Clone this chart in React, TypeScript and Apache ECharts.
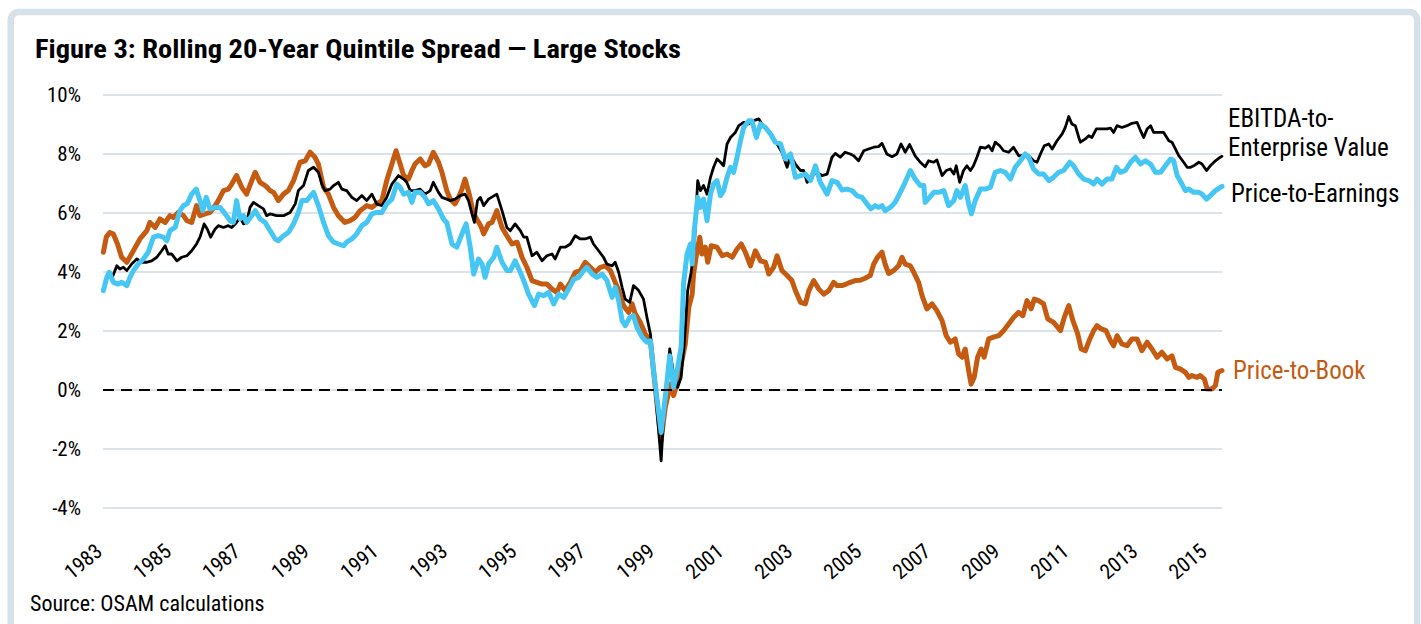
import React, { useEffect, useRef } from "react";
import * as echarts from "echarts";

// ---------- data (year, % spread) ----------
const pbData: [number, number][] = [
  [1983.01, 4.67], [1983.1, 5.2], [1983.2, 5.34], [1983.3, 5.29], [1983.42, 4.95], [1983.54, 4.5], [1983.69, 4.33], [1983.88, 4.72],
  [1984.07, 5.12], [1984.27, 5.4], [1984.36, 5.68], [1984.51, 5.51], [1984.65, 5.8], [1984.8, 5.68], [1984.94, 5.91], [1985.04, 5.85],
  [1985.18, 6.02], [1985.33, 5.91], [1985.43, 5.74], [1985.57, 5.68], [1985.71, 6.25], [1985.81, 5.91], [1985.96, 5.97], [1986.1, 6.02],
  [1986.25, 6.25], [1986.34, 6.42], [1986.49, 6.76], [1986.63, 6.81], [1986.73, 6.98], [1986.87, 7.27], [1987.02, 6.87], [1987.16, 6.64],
  [1987.31, 7.1], [1987.41, 7.38], [1987.55, 7.04], [1987.7, 6.93], [1987.84, 6.76], [1987.94, 6.7], [1988.08, 6.42], [1988.23, 6.64],
  [1988.37, 6.76], [1988.52, 7.1], [1988.71, 7.72], [1988.86, 7.77], [1989.0, 8.06], [1989.14, 7.89], [1989.24, 7.66], [1989.39, 6.87],
  [1989.53, 6.64], [1989.68, 6.19], [1989.82, 5.91], [1990.01, 5.68], [1990.16, 5.74], [1990.3, 5.85], [1990.45, 6.08], [1990.64, 6.25],
  [1990.79, 6.19], [1990.93, 6.31], [1991.08, 6.42], [1991.22, 7.1], [1991.37, 7.66], [1991.49, 8.11], [1991.61, 7.66], [1991.71, 7.27],
  [1991.85, 7.15], [1991.95, 7.44], [1992.04, 7.66], [1992.19, 7.83], [1992.33, 7.6], [1992.43, 7.66], [1992.57, 8.06], [1992.72, 7.72],
  [1992.82, 7.38], [1992.96, 6.76], [1993.06, 6.47], [1993.2, 6.31], [1993.3, 6.53], [1993.4, 6.81], [1993.49, 7.15], [1993.62, 6.6],
  [1993.73, 6.0], [1993.85, 5.75], [1993.95, 5.55], [1994.03, 5.29], [1994.17, 5.63], [1994.27, 5.68], [1994.41, 6.08], [1994.56, 5.51],
  [1994.7, 5.23], [1994.85, 4.95], [1995.0, 5.01], [1995.14, 4.5], [1995.28, 4.16], [1995.43, 3.71], [1995.57, 3.65], [1995.72, 3.59],
  [1995.86, 3.59], [1996.01, 3.42], [1996.15, 3.31], [1996.25, 3.59], [1996.39, 3.37], [1996.54, 3.65], [1996.68, 3.99], [1996.83, 4.05],
  [1996.97, 4.33], [1997.12, 4.16], [1997.26, 3.99], [1997.41, 4.16], [1997.55, 4.21], [1997.7, 4.05], [1997.84, 3.65], [1997.94, 3.37],
  [1998.08, 2.86], [1998.23, 2.63], [1998.33, 2.92], [1998.42, 2.58], [1998.57, 2.29], [1998.71, 1.9], [1998.86, 1.67], [1998.95, 0.66],
  [1999.07, -0.7], [1999.17, -1.72], [1999.29, -0.59], [1999.44, 0.2], [1999.53, -0.19], [1999.63, 0.2], [1999.75, 0.88], [1999.87, 1.56],
  [1999.97, 2.8], [2000.07, 3.25], [2000.11, 3.93], [2000.21, 4.72], [2000.29, 5.18], [2000.35, 4.61], [2000.45, 4.84], [2000.52, 4.33],
  [2000.62, 4.89], [2000.79, 4.84], [2000.94, 4.55], [2001.08, 4.61], [2001.23, 4.5], [2001.37, 4.78], [2001.49, 4.95], [2001.61, 4.67],
  [2001.76, 4.21], [2001.9, 4.72], [2002.05, 4.38], [2002.19, 4.33], [2002.29, 3.93], [2002.43, 4.16], [2002.53, 4.55], [2002.67, 4.05],
  [2002.82, 3.88], [2002.96, 3.71], [2003.06, 3.37], [2003.21, 2.97], [2003.35, 2.92], [2003.45, 3.37], [2003.59, 3.71], [2003.74, 3.42],
  [2003.88, 3.25], [2004.03, 3.37], [2004.17, 3.65], [2004.27, 3.54], [2004.41, 3.54], [2004.55, 3.6], [2004.65, 3.65], [2004.79, 3.71],
  [2004.94, 3.72], [2005.08, 3.79], [2005.23, 3.88], [2005.33, 4.27], [2005.44, 4.5], [2005.57, 4.67], [2005.66, 4.27], [2005.76, 3.95],
  [2005.91, 4.05], [2006.05, 4.21], [2006.15, 4.5], [2006.24, 4.27], [2006.39, 4.21], [2006.49, 3.99], [2006.63, 3.65], [2006.73, 3.2],
  [2006.87, 2.75], [2007.02, 2.92], [2007.16, 2.69], [2007.31, 2.35], [2007.43, 1.84], [2007.55, 1.62], [2007.69, 1.73], [2007.79, 1.22],
  [2007.89, 1.11], [2007.98, 1.39], [2008.08, 0.66], [2008.15, 0.2], [2008.24, 0.43], [2008.34, 1.11], [2008.44, 1.39], [2008.53, 1.11],
  [2008.66, 1.73], [2008.8, 1.79], [2008.95, 1.84], [2009.09, 2.01], [2009.24, 2.24], [2009.38, 2.46], [2009.53, 2.63], [2009.65, 2.52],
  [2009.77, 3.03], [2009.89, 2.75], [2009.98, 3.08], [2010.11, 3.03], [2010.25, 2.92], [2010.37, 2.41], [2010.54, 2.29], [2010.74, 2.01],
  [2010.85, 2.46], [2010.98, 2.86], [2011.1, 2.35], [2011.24, 1.9], [2011.34, 1.39], [2011.46, 1.33], [2011.59, 1.73], [2011.7, 2.01],
  [2011.8, 2.18], [2011.92, 2.07], [2012.06, 2.01], [2012.19, 1.67], [2012.28, 1.5], [2012.38, 1.84], [2012.52, 1.56], [2012.67, 1.5],
  [2012.81, 1.73], [2012.96, 1.73], [2013.1, 1.33], [2013.25, 1.62], [2013.39, 1.39], [2013.54, 1.11], [2013.68, 1.28], [2013.83, 1.05],
  [2013.97, 1.16], [2014.07, 0.77], [2014.22, 0.71], [2014.36, 0.6], [2014.46, 0.43], [2014.55, 0.49], [2014.7, 0.43], [2014.79, 0.49],
  [2014.91, 0.37], [2014.99, 0.03], [2015.13, 0.03], [2015.23, 0.15], [2015.3, 0.6], [2015.42, 0.66],
];

const peData: [number, number][] = [
  [1983.01, 3.37], [1983.11, 3.82], [1983.18, 3.99], [1983.3, 3.65], [1983.44, 3.59], [1983.54, 3.65], [1983.69, 3.54], [1983.78, 3.82],
  [1983.88, 4.05], [1984.02, 4.27], [1984.17, 4.44], [1984.31, 4.67], [1984.46, 5.18], [1984.6, 5.23], [1984.75, 5.18], [1984.85, 5.06],
  [1984.94, 5.4], [1985.09, 5.51], [1985.23, 6.08], [1985.33, 6.25], [1985.44, 6.31], [1985.57, 6.64], [1985.7, 6.81], [1985.81, 6.42],
  [1985.89, 6.08], [1985.99, 6.53], [1986.1, 6.14], [1986.25, 6.19], [1986.39, 6.19], [1986.54, 5.97], [1986.68, 5.74], [1986.78, 5.68],
  [1986.87, 6.42], [1986.97, 5.8], [1987.07, 5.91], [1987.16, 5.68], [1987.31, 5.91], [1987.41, 6.08], [1987.55, 5.8], [1987.7, 5.68],
  [1987.84, 5.4], [1987.99, 5.12], [1988.08, 5.06], [1988.23, 5.23], [1988.37, 5.34], [1988.52, 5.63], [1988.66, 6.02], [1988.76, 6.42],
  [1988.9, 6.42], [1989.1, 6.7], [1989.24, 6.25], [1989.39, 5.68], [1989.53, 5.23], [1989.68, 5.01], [1989.82, 4.95], [1989.97, 4.89],
  [1990.06, 5.01], [1990.21, 5.12], [1990.35, 5.29], [1990.5, 5.57], [1990.64, 5.68], [1990.79, 5.97], [1990.93, 6.02], [1991.08, 6.02],
  [1991.22, 6.31], [1991.37, 6.47], [1991.51, 6.98], [1991.61, 6.87], [1991.71, 6.64], [1991.85, 6.7], [1991.95, 6.36], [1992.04, 6.7],
  [1992.19, 6.7], [1992.33, 6.53], [1992.43, 6.31], [1992.57, 6.42], [1992.72, 6.14], [1992.86, 5.8], [1992.96, 5.68], [1993.11, 4.95],
  [1993.25, 4.84], [1993.4, 5.29], [1993.52, 5.63], [1993.64, 4.84], [1993.74, 3.93], [1993.88, 4.44], [1993.98, 4.27], [1994.07, 3.82],
  [1994.17, 4.27], [1994.32, 4.5], [1994.41, 4.84], [1994.56, 4.33], [1994.7, 4.05], [1994.8, 4.05], [1994.94, 4.38], [1995.09, 3.99],
  [1995.19, 3.71], [1995.33, 3.25], [1995.5, 2.86], [1995.62, 3.25], [1995.77, 3.2], [1995.91, 3.31], [1996.06, 2.92], [1996.2, 3.25],
  [1996.35, 3.14], [1996.49, 3.42], [1996.64, 3.76], [1996.78, 3.82], [1996.93, 4.05], [1997.02, 4.16], [1997.17, 3.93], [1997.31, 3.82],
  [1997.46, 3.93], [1997.6, 3.71], [1997.75, 3.14], [1997.84, 3.48], [1997.94, 3.03], [1998.04, 2.35], [1998.13, 2.18], [1998.26, 2.46],
  [1998.37, 2.52], [1998.47, 2.12], [1998.62, 1.79], [1998.76, 1.62], [1998.86, 1.67], [1998.95, 0.66], [1999.07, -0.47], [1999.17, -1.44],
  [1999.29, -0.25], [1999.42, 1.16], [1999.53, 0.09], [1999.65, 0.77], [1999.75, 1.45], [1999.82, 3.59], [1999.92, 4.61], [2000.02, 4.95],
  [2000.07, 4.27], [2000.13, 5.4], [2000.23, 6.53], [2000.31, 6.19], [2000.4, 6.47], [2000.5, 5.74], [2000.6, 6.64], [2000.69, 6.98],
  [2000.79, 7.1], [2000.89, 6.59], [2000.98, 6.76], [2001.08, 7.21], [2001.18, 7.55], [2001.27, 7.38], [2001.37, 7.89], [2001.47, 8.45],
  [2001.56, 8.9], [2001.71, 9.13], [2001.8, 9.13], [2001.93, 8.56], [2002.05, 9.02], [2002.19, 8.9], [2002.34, 8.68], [2002.48, 8.4],
  [2002.63, 8.34], [2002.77, 7.83], [2002.92, 8.0], [2003.06, 7.21], [2003.21, 7.27], [2003.35, 7.32], [2003.5, 7.1], [2003.64, 7.6],
  [2003.78, 7.04], [2003.98, 6.64], [2004.12, 7.1], [2004.27, 7.04], [2004.41, 6.78], [2004.55, 6.81], [2004.7, 6.76], [2004.84, 6.59],
  [2004.99, 6.53], [2005.13, 6.31], [2005.25, 6.14], [2005.37, 6.25], [2005.47, 6.19], [2005.57, 6.25], [2005.66, 6.08], [2005.81, 6.19],
  [2005.95, 6.36], [2006.1, 6.7], [2006.24, 7.04], [2006.39, 7.44], [2006.53, 7.15], [2006.68, 6.93], [2006.78, 6.93], [2006.82, 6.36],
  [2006.95, 6.53], [2007.07, 6.7], [2007.21, 6.7], [2007.36, 6.76], [2007.5, 6.25], [2007.65, 6.42], [2007.74, 6.76], [2007.84, 6.53],
  [2007.98, 6.93], [2008.08, 6.31], [2008.16, 5.97], [2008.27, 6.42], [2008.42, 6.81], [2008.56, 6.81], [2008.71, 6.87], [2008.85, 7.38],
  [2009.0, 7.44], [2009.14, 7.38], [2009.29, 7.15], [2009.43, 7.55], [2009.58, 7.77], [2009.72, 8.0], [2009.82, 7.89], [2009.96, 7.49],
  [2010.11, 7.32], [2010.25, 7.32], [2010.4, 7.1], [2010.54, 7.21], [2010.69, 7.38], [2010.83, 7.44], [2011.01, 7.72], [2011.12, 7.6],
  [2011.27, 7.32], [2011.41, 7.15], [2011.56, 7.1], [2011.7, 6.98], [2011.8, 7.15], [2011.94, 6.98], [2012.09, 7.15], [2012.23, 7.15],
  [2012.36, 7.55], [2012.48, 7.38], [2012.62, 7.44], [2012.77, 7.72], [2012.91, 7.89], [2013.06, 7.66], [2013.2, 7.77], [2013.35, 7.66],
  [2013.49, 7.38], [2013.64, 7.38], [2013.78, 7.6], [2013.93, 7.83], [2014.02, 7.77], [2014.12, 7.27], [2014.26, 6.98], [2014.36, 6.76],
  [2014.46, 6.81], [2014.6, 6.7], [2014.75, 6.7], [2014.84, 6.64], [2014.97, 6.47], [2015.08, 6.59], [2015.23, 6.76], [2015.37, 6.87],
  [2015.42, 6.9],
];

const evData: [number, number][] = [
  [1983.28, 3.85], [1983.4, 4.21], [1983.49, 4.1], [1983.59, 4.16], [1983.69, 4.05], [1983.83, 4.27], [1983.98, 4.44], [1984.12, 4.33],
  [1984.27, 4.33], [1984.41, 4.38], [1984.56, 4.5], [1984.7, 4.72], [1984.8, 4.89], [1984.89, 4.61], [1984.99, 4.61], [1985.14, 4.38],
  [1985.28, 4.5], [1985.43, 4.55], [1985.57, 4.72], [1985.71, 4.95], [1985.81, 5.18], [1985.93, 5.63], [1986.02, 5.46], [1986.12, 5.18],
  [1986.25, 5.46], [1986.34, 5.57], [1986.49, 5.51], [1986.63, 5.57], [1986.73, 5.51], [1986.87, 5.68], [1986.97, 5.85], [1987.07, 5.63],
  [1987.16, 5.68], [1987.26, 6.19], [1987.36, 6.36], [1987.5, 6.25], [1987.65, 6.14], [1987.74, 5.91], [1987.84, 5.97], [1988.03, 5.91],
  [1988.23, 5.91], [1988.42, 6.02], [1988.57, 6.31], [1988.66, 6.76], [1988.81, 6.93], [1988.95, 7.44], [1989.1, 7.55], [1989.24, 7.38],
  [1989.34, 6.98], [1989.43, 6.76], [1989.58, 6.81], [1989.68, 6.93], [1989.82, 7.04], [1989.92, 6.81], [1990.06, 6.76], [1990.21, 6.53],
  [1990.35, 6.42], [1990.5, 6.59], [1990.64, 6.42], [1990.79, 6.64], [1990.93, 6.31], [1991.08, 6.25], [1991.22, 6.53], [1991.37, 6.98],
  [1991.56, 7.27], [1991.71, 7.15], [1991.8, 7.04], [1991.9, 6.76], [1992.04, 6.76], [1992.19, 6.81], [1992.33, 6.64], [1992.48, 6.76],
  [1992.57, 7.04], [1992.72, 6.7], [1992.82, 6.53], [1992.96, 6.47], [1993.06, 6.42], [1993.2, 6.47], [1993.35, 6.59], [1993.49, 6.64],
  [1993.59, 6.42], [1993.69, 5.97], [1993.76, 5.68], [1993.85, 6.42], [1993.93, 6.53], [1994.03, 6.25], [1994.17, 6.47], [1994.41, 6.64],
  [1994.56, 6.08], [1994.7, 5.51], [1994.8, 5.4], [1994.94, 5.63], [1995.09, 5.4], [1995.19, 5.18], [1995.28, 5.18], [1995.43, 4.55],
  [1995.57, 4.67], [1995.72, 4.38], [1995.86, 4.55], [1996.01, 4.61], [1996.1, 4.44], [1996.25, 4.84], [1996.39, 4.84], [1996.54, 4.95],
  [1996.68, 5.23], [1996.83, 5.12], [1996.97, 5.12], [1997.12, 5.18], [1997.21, 4.95], [1997.36, 4.72], [1997.5, 4.5], [1997.6, 4.27],
  [1997.75, 4.21], [1997.84, 4.33], [1997.94, 3.99], [1998.04, 3.48], [1998.13, 3.08], [1998.26, 2.97], [1998.37, 3.54], [1998.52, 3.37],
  [1998.66, 3.08], [1998.76, 2.46], [1998.86, 1.9], [1998.95, 0.77], [1999.05, -0.7], [1999.17, -2.4], [1999.26, -0.59], [1999.42, 1.39],
  [1999.53, 0.54], [1999.65, 0.09], [1999.75, 0.43], [1999.84, 1.56], [1999.94, 3.37], [2000.04, 3.99], [2000.13, 4.84], [2000.23, 7.1],
  [2000.31, 6.76], [2000.4, 6.93], [2000.5, 6.64], [2000.6, 7.21], [2000.69, 7.55], [2000.79, 7.83], [2000.89, 7.72], [2000.98, 7.6],
  [2001.08, 8.34], [2001.18, 8.56], [2001.32, 8.73], [2001.42, 8.96], [2001.56, 9.07], [2001.71, 9.02], [2001.85, 9.13], [2002.0, 9.19],
  [2002.09, 9.02], [2002.24, 8.85], [2002.38, 8.56], [2002.53, 8.34], [2002.67, 8.06], [2002.82, 7.55], [2002.92, 7.94], [2003.06, 7.66],
  [2003.21, 7.44], [2003.3, 7.44], [2003.4, 7.04], [2003.54, 7.27], [2003.69, 7.38], [2003.83, 7.27], [2003.98, 7.32], [2004.12, 7.89],
  [2004.22, 8.02], [2004.36, 7.89], [2004.5, 8.06], [2004.65, 8.0], [2004.75, 7.94], [2004.89, 7.77], [2005.04, 8.11], [2005.18, 8.17],
  [2005.33, 8.23], [2005.47, 8.25], [2005.57, 8.36], [2005.71, 8.0], [2005.86, 7.91], [2006.0, 8.0], [2006.12, 8.34], [2006.24, 8.06],
  [2006.37, 8.32], [2006.53, 7.94], [2006.68, 7.72], [2006.82, 7.57], [2006.92, 7.77], [2007.07, 7.72], [2007.16, 7.8], [2007.31, 7.27],
  [2007.43, 7.44], [2007.55, 7.49], [2007.65, 7.32], [2007.72, 7.6], [2007.82, 7.04], [2007.93, 7.44], [2008.03, 7.6], [2008.13, 7.44],
  [2008.22, 7.6], [2008.32, 7.89], [2008.42, 8.23], [2008.56, 8.2], [2008.66, 8.28], [2008.76, 8.11], [2008.85, 8.4], [2008.98, 8.28],
  [2009.09, 8.11], [2009.24, 8.06], [2009.38, 8.23], [2009.53, 7.94], [2009.67, 7.94], [2009.82, 7.94], [2009.96, 7.77], [2010.06, 7.72],
  [2010.16, 8.0], [2010.27, 8.28], [2010.4, 8.34], [2010.5, 8.17], [2010.64, 8.45], [2010.79, 8.68], [2010.88, 8.9], [2010.98, 9.27],
  [2011.07, 9.02], [2011.17, 8.96], [2011.27, 8.56], [2011.32, 8.4], [2011.46, 8.51], [2011.56, 8.62], [2011.65, 8.56], [2011.78, 8.85],
  [2011.94, 8.85], [2012.09, 8.85], [2012.19, 8.88], [2012.28, 8.73], [2012.38, 8.96], [2012.52, 8.9], [2012.67, 8.96], [2012.81, 9.04],
  [2012.96, 9.07], [2013.06, 8.79], [2013.15, 8.56], [2013.25, 8.85], [2013.35, 8.96], [2013.44, 8.73], [2013.59, 8.73], [2013.73, 8.73],
  [2013.88, 8.45], [2013.97, 8.4], [2014.07, 8.17], [2014.17, 7.94], [2014.31, 7.72], [2014.41, 7.55], [2014.51, 7.55], [2014.6, 7.6],
  [2014.75, 7.72], [2014.84, 7.66], [2014.97, 7.44], [2015.08, 7.6], [2015.23, 7.77], [2015.37, 7.89], [2015.42, 7.92],
];

const seriesNames = ["Price-to-Book", "EBITDA-to-Enterprise Value", "Price-to-Earnings"];
const titleText = "Figure 3: Rolling 20-Year Quintile Spread \u2014 Large Stocks";
const sourceText = "Source: OSAM calculations";
const xRange = [1983, 2015.42];
const yRange = [-4, 10];

const FONT = '"Liberation Sans Narrow", "Arial Narrow", "Roboto Condensed", "Liberation Sans", Arial, sans-serif';
const ORANGE = "#c55a11";
const BLUE = "#45c6f3";
const FRAME = "#d7e1ea";
const GRID = "#dbe3ea";

export default function App() {
  const ref = useRef<HTMLDivElement>(null);
  useEffect(() => {
    if (!ref.current) return;
    const chart = echarts.init(ref.current, null, { renderer: "svg" });
    const txt = (x: number, y: number, text: string, size: number, fill = "#000", weight: any = "normal", scaleX = 1) => ({
      type: "text",
      x,
      y,
      scaleX,
      silent: true,
      style: { text, fontSize: size, fontFamily: FONT, fontWeight: weight, fill, align: "left", verticalAlign: "middle" },
    });
    chart.setOption({
      animation: false,
      backgroundColor: "#ffffff",
      grid: { left: 103, right: 199, top: 95, bottom: 116, containLabel: false },
      xAxis: {
        type: "value",
        min: xRange[0],
        max: xRange[1],
        interval: 2,
        axisLine: { show: false },
        axisTick: { show: false },
        splitLine: { show: false },
        axisLabel: {
          rotate: 40,
          margin: 37,
          padding: [0, 5, 0, 0],
          color: "#000",
          fontSize: 21,
          fontFamily: FONT,
          showMaxLabel: false,
          formatter: (v: number) => (Math.abs(v - Math.round(v)) < 1e-6 ? String(Math.round(v)) : ""),
        },
      },
      yAxis: {
        type: "value",
        min: yRange[0],
        max: yRange[1],
        interval: 2,
        axisLine: { show: false },
        axisTick: { show: false },
        splitLine: { show: true, lineStyle: { color: GRID, width: 2 } },
        axisLabel: { formatter: "{value}%", margin: 22, color: "#000", fontSize: 21, fontFamily: FONT },
      },
      series: [
        {
          name: seriesNames[0],
          type: "line",
          data: pbData,
          showSymbol: false,
          z: 2,
          lineStyle: { color: ORANGE, width: 5, join: "round", cap: "round" },
          markLine: {
            silent: true,
            symbol: ["none", "none"],
            label: { show: false },
            lineStyle: { color: "#000", type: [11, 7], width: 2 },
            data: [{ yAxis: 0 }],
          },
        },
        {
          name: seriesNames[1],
          type: "line",
          data: evData,
          showSymbol: false,
          z: 3,
          lineStyle: { color: "#000", width: 2.8, join: "round", cap: "round" },
        },
        {
          name: seriesNames[2],
          type: "line",
          data: peData,
          showSymbol: false,
          z: 4,
          lineStyle: { color: BLUE, width: 5, join: "round", cap: "round" },
        },
      ],
      graphic: [
        {
          type: "rect",
          silent: true,
          z: -10,
          shape: { x: 10.75, y: 12, width: 1406.5, height: 700, r: 8 },
          style: { fill: "none", stroke: FRAME, lineWidth: 6.5 },
        },
        txt(35, 50, titleText, 25, "#000", "bold", 1.14),
        txt(1228, 118, "EBITDA-to-", 25),
        txt(1228, 147, "Enterprise Value", 25),
        txt(1231, 193, "Price-to-Earnings", 25),
        txt(1233, 370, "Price-to-Book", 25, ORANGE),
        txt(30, 603, sourceText, 22),
      ],
    });
    return () => chart.dispose();
  }, []);
  return (
    <div
      ref={ref}
      style={{ position: "absolute", left: 0, top: 0, width: 1421, height: 624, background: "#fff" }}
    />
  );
}
